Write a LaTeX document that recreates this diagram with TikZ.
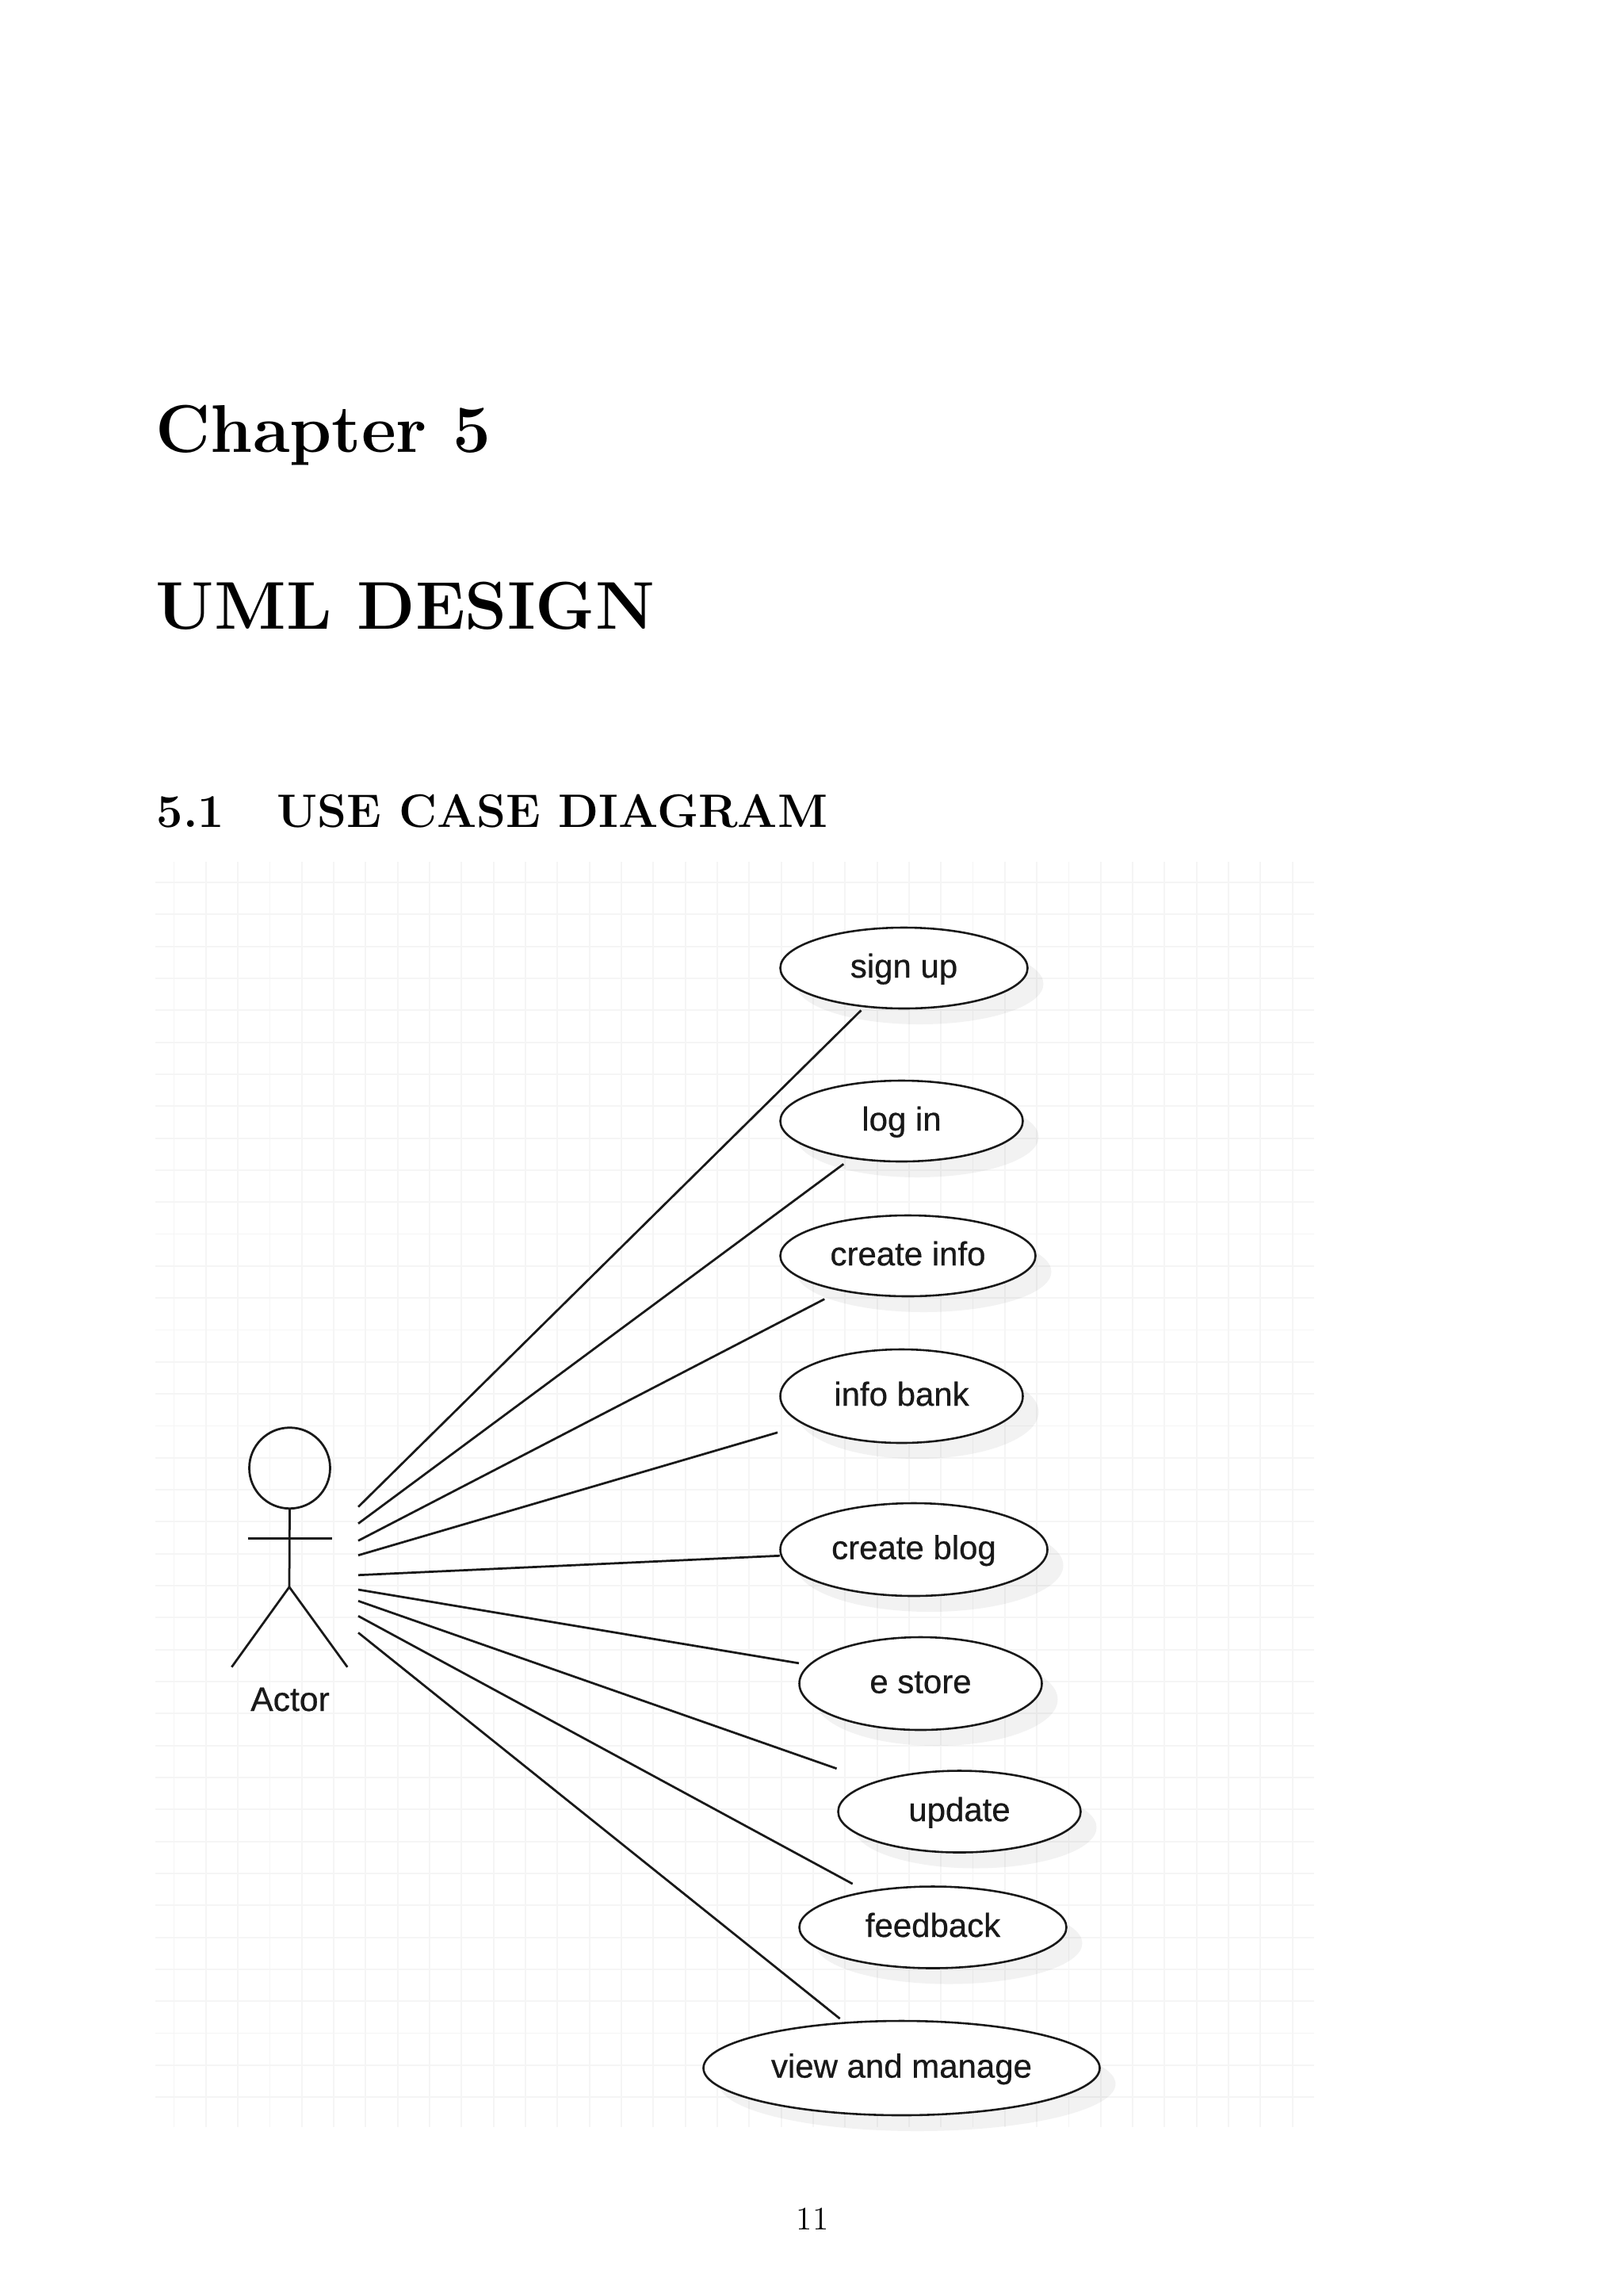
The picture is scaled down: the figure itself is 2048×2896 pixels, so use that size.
\documentclass[tikz,border=0pt]{standalone}
\usepackage{fontspec}
\newfontfamily\labelfont[FakeBold=0.6]{Liberation Sans}
\usetikzlibrary{shapes.geometric,shadows}
\def\px{0.29066pt}
\tikzset{
  x=0.29066pt, y=-0.29066pt,
  heading/.style={anchor=base west, inner sep=0pt, font=\bfseries},
  gridline/.style={draw=black!4, line width=0.55pt},
  usecase/.style 2 args={ellipse, draw=black!90, fill=white, line width=0.75pt,
    inner sep=0pt, outer sep=0pt, minimum width=#1*\px, minimum height=#2*\px,
    text=black!90, text height=9.5pt, text depth=2.5pt,
    font=\labelfont\fontsize{12.2}{14}\selectfont,
    drop shadow={shadow xshift=20*\px, shadow yshift=-20*\px, fill=black, opacity=0.05}},
  actorline/.style={draw=black!90, line width=0.8pt},
  assoc/.style={draw=black!90, line width=0.8pt}
}
\begin{document}
\begin{tikzpicture}
\useasboundingbox (0,0) rectangle (2048,2896);

% page headings
\node[heading, font=\bfseries\fontsize{24.75}{30}\selectfont] (chapter) at (196,570) {Chapter 5};
\node[heading, font=\bfseries\fontsize{24.75}{30}\selectfont] (title) at (196,793) {UML DESIGN};
\node[heading, font=\bfseries\fontsize{17.2}{22}\selectfont] (section) at (197,1043) {5.1\hspace{1.125em}USE CASE DIAGRAM};

% grid behind the diagram
\foreach \i in {0,...,35}
  \draw[gridline] ({219.5+40.32*\i},1087) -- ({219.5+40.32*\i},2683);
\foreach \j in {0,...,38}
  \draw[gridline] (196,{1113+40.32*\j}) -- (1658,{1113+40.32*\j});

% actor
\node[circle, actorline, inner sep=0pt, minimum size=102*\px] (head) at (365.5,1851.7) {};
\coordinate (hip) at (365,2001.7);
\coordinate (armL) at (312.7,1940.7);
\coordinate (armR) at (419,1940.7);
\coordinate (footL) at (292.3,2102.7);
\coordinate (footR) at (438.3,2102.7);
\draw[actorline] (head.south) -- (hip);
\draw[actorline] (armL) -- (armR);
\draw[actorline] (footL) -- (hip) -- (footR);
\node[anchor=base, inner sep=0pt, text=black!90, font=\labelfont\fontsize{12.4}{14}\selectfont] (actor) at (366,2158) {Actor};

% use cases
\node[usecase={312}{102}] (signup) at (1140.5,1221) {sign up};
\node[usecase={306}{102}] (login) at (1137.5,1414) {log in};
\node[usecase={322}{102}] (createinfo) at (1145.5,1584) {create info};
\node[usecase={306}{118}] (infobank) at (1137.5,1761) {info bank};
\node[usecase={337}{117}] (createblog) at (1153,1954.5) {create blog};
\node[usecase={306}{117}] (estore) at (1161.5,2123.5) {e store};
\node[usecase={306}{103}] (update) at (1210.5,2285) {update};
\node[usecase={337}{103}] (feedback) at (1177,2431) {feedback};
\node[usecase={500}{119}] (viewmanage) at (1137.5,2608.5) {view and manage};

% free ends beside the actor
\coordinate (a1) at (452,1900.7);
\coordinate (a2) at (452,1921.7);
\coordinate (a3) at (452,1943.3);
\coordinate (a4) at (452,1961.7);
\coordinate (a5) at (452,1986.7);
\coordinate (a6) at (452,2005);
\coordinate (a7) at (452,2019.3);
\coordinate (a8) at (452,2038.3);
\coordinate (a9) at (452,2059.3);

% associations
\draw[assoc, shorten >=7*\px] (a1) -- (signup);
\draw[assoc, shorten >=13*\px] (a2) -- (login);
\draw[assoc, shorten >=24*\px] (a3) -- (createinfo);
\draw[assoc, shorten >=36*\px] (a4) -- (infobank);
\draw[assoc, shorten >=2.2*\px] (a5) -- (createblog);
\draw[assoc, shorten >=13.5*\px] (a6) -- (estore);
\draw[assoc, shorten >=51.8*\px] (a7) -- (update);
\draw[assoc, shorten >=21*\px] (a8) -- (feedback);
\draw[assoc, shorten >=8.5*\px] (a9) -- (viewmanage);

% page number
\node[anchor=base, inner sep=0pt, font=\fontsize{12}{14}\selectfont] (pageno) at (1025,2812) {11};
\end{tikzpicture}
\end{document}
